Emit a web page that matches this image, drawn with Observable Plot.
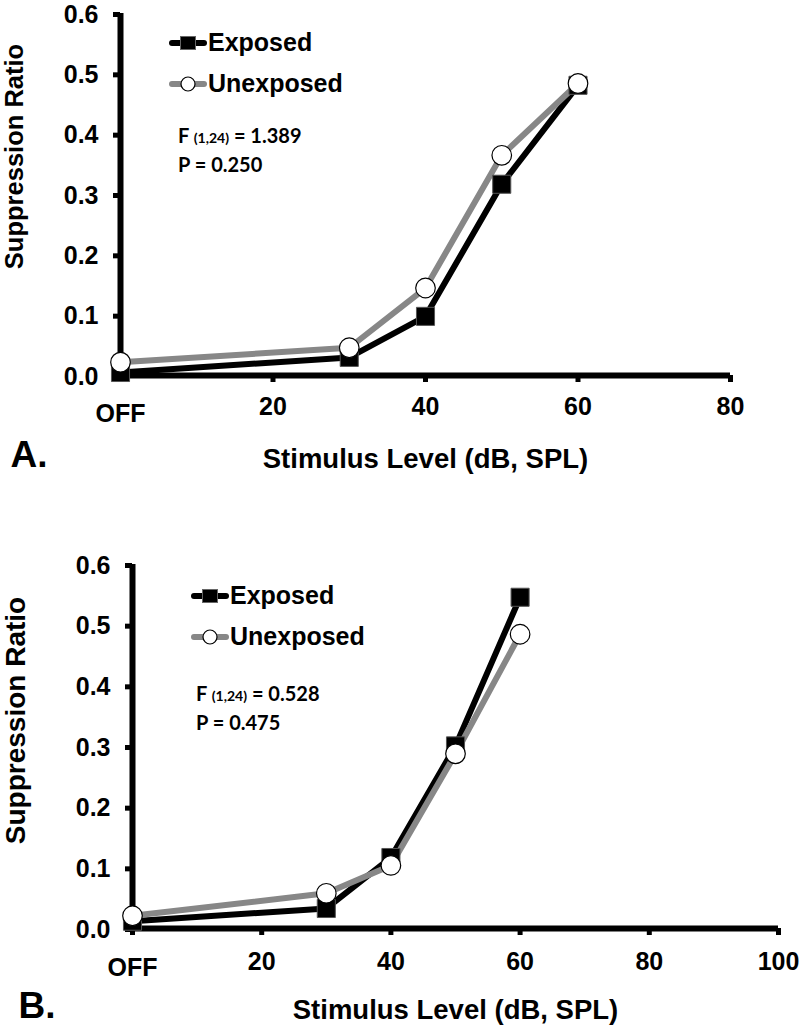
<!DOCTYPE html>
<html>
<head>
<meta charset="utf-8">
<script src="https://cdn.jsdelivr.net/npm/d3@7"></script>
<script src="https://cdn.jsdelivr.net/npm/@observablehq/plot@0.6"></script>
<style>
  html, body { margin: 0; padding: 0; background: white; }
  #root { position: relative; width: 800px; height: 1026px; overflow: hidden; font-family: "Liberation Sans", Arial, sans-serif; }
  .panel { position: absolute; left: 0; }
  .legend { position: absolute; font-weight: bold; font-size: 25px; color: black; }
  .legend .row { display: flex; align-items: center; height: 41px; }
  .legend svg { display: block; margin-right: 1px; }
  .stat { position: absolute; font-family: Lato, "Open Sans", sans-serif; font-weight: bold; font-size: 20px; line-height: 27px; color: black; white-space: nowrap; }
  .stat .sub { font-size: 14px; }
</style>
</head>
<body>
<div id="root"></div>
<script>
// ---- data ----
const levels = [0, 30, 40, 50, 60];
const exposedA = [0.005, 0.030, 0.098, 0.317, 0.481];
const unexposedA = [0.022, 0.046, 0.145, 0.365, 0.484];
const exposedB = [0.012, 0.033, 0.117, 0.301, 0.546];
const unexposedB = [0.021, 0.058, 0.104, 0.288, 0.485];
const yTicks = [0, 0.1, 0.2, 0.3, 0.4, 0.5, 0.6];
const xTicksA = [0, 20, 40, 60, 80];
const xTicksB = [0, 20, 40, 60, 80, 100];
const offLabel = "OFF";
const seriesNames = ["Exposed", "Unexposed"];
const statsA = { df: "(1,24)", F: "1.389", P: "0.250" };
const statsB = { df: "(1,24)", F: "0.528", P: "0.475" };

const grey = "#878787";

function panel(cfg) {
  const exp = levels.map((x, i) => ({x, y: cfg.exposed[i]}));
  const unexp = levels.map((x, i) => ({x, y: cfg.unexposed[i]}));
  return Plot.plot({
    width: 800,
    height: cfg.height,
    marginTop: cfg.marginTop,
    marginBottom: cfg.marginBottom,
    marginLeft: cfg.marginLeft,
    marginRight: cfg.marginRight,
    x: {domain: [0, cfg.xTicks[cfg.xTicks.length - 1]]},
    y: {domain: [0, 0.6]},
    style: {fontFamily: "'Liberation Sans', Arial, sans-serif", fontWeight: "bold", background: "white", color: "black", overflow: "visible"},
    marks: [
      Plot.axisY({ticks: yTicks, tickSize: 7, tickPadding: 15, strokeWidth: 5, fontSize: 25, fontWeight: "bold", tickFormat: d3.format(".1f"), label: null, dy: 1}),
      Plot.axisX({ticks: cfg.xTicks, tickSize: 7, tickPadding: cfg.xPad, strokeWidth: 5, fontSize: 25, fontWeight: "bold", tickFormat: d => d === 0 ? "" : String(d), label: null}),
      Plot.text([cfg.xTicks[0]], {x: d => d, frameAnchor: "bottom", text: () => offLabel, dy: cfg.offDy, fontSize: 25, fontWeight: "bold", lineAnchor: "top"}),
      Plot.ruleX([0], {stroke: "black", strokeWidth: 6}),
      Plot.ruleY([0], {stroke: "black", strokeWidth: 6}),
      Plot.text(["Suppression Ratio"], {frameAnchor: "left", dx: cfg.yTitleDx, dy: cfg.yTitleDy, rotate: -90, fontSize: cfg.yTitleSize, fontWeight: "bold", textAnchor: "middle", lineAnchor: "middle"}),
      Plot.text(["Stimulus Level (dB, SPL)"], {frameAnchor: "bottom", dy: cfg.titleDy, fontSize: 27.5, fontWeight: "bold", lineAnchor: "middle"}),
      Plot.text([cfg.letter], {frameAnchor: "bottom-left", dx: cfg.letterDx, dy: cfg.letterDy, fontSize: 37, fontWeight: "bold", textAnchor: "start", lineAnchor: "middle"}),
      Plot.line(exp, {x: "x", y: "y", stroke: "black", strokeWidth: 6}),
      Plot.line(unexp, {x: "x", y: "y", stroke: grey, strokeWidth: 6}),
      Plot.dot(exp, {x: "x", y: "y", symbol: "square", r: 10.2, fill: "black", stroke: "#555", strokeWidth: 1}),
      Plot.dot(unexp, {x: "x", y: "y", symbol: "circle", r: 9.8, fill: "white", stroke: "black", strokeWidth: 1.2})
    ]
  });
}

function legend(left, top) {
  const div = document.createElement("div");
  div.className = "legend";
  div.style.left = left + "px";
  div.style.top = top + "px";
  seriesNames.forEach((name, i) => {
    const row = document.createElement("div");
    row.className = "row";
    const color = i === 0 ? "black" : grey;
    const marker = i === 0
      ? `<rect x="11.5" y="4.5" width="15" height="13" fill="black" stroke="#666" stroke-width="1"/>`
      : `<circle cx="19" cy="11" r="7" fill="white" stroke="black" stroke-width="1.2"/>`;
    row.innerHTML = `<svg width="38" height="22"><line x1="3" x2="35" y1="11" y2="11" stroke="${color}" stroke-width="6" stroke-linecap="round"/>${marker}</svg><span>${name}</span>`;
    div.appendChild(row);
  });
  return div;
}

function stat(left, top, s) {
  const div = document.createElement("div");
  div.className = "stat";
  div.style.left = left + "px";
  div.style.top = top + "px";
  div.innerHTML = `<div>F <span class="sub">${s.df}</span> = ${s.F}</div><div>P = ${s.P}</div>`;
  return div;
}

const root = document.getElementById("root");

const a = panel({exposed: exposedA, unexposed: unexposedA, xTicks: xTicksA, height: 490, marginTop: 13, marginBottom: 115, marginLeft: 120, marginRight: 70,
  xPad: 15, offDy: 29, titleDy: 84, letter: "A.", letterDx: -110, letterDy: 80,
  yTitleDx: -106, yTitleDy: -38, yTitleSize: 25.5});
a.classList.add("panel");
a.style.top = "0px";
root.appendChild(a);

const b = panel({exposed: exposedB, unexposed: unexposedB, xTicks: xTicksB, height: 536, marginTop: 74, marginBottom: 98, marginLeft: 132, marginRight: 22,
  xPad: 17, offDy: 30, titleDy: 82, letter: "B.", letterDx: -114, letterDy: 78,
  yTitleDx: -116, yTitleDy: -26, yTitleSize: 28});
b.classList.add("panel");
b.style.top = "490px";
root.appendChild(b);

root.appendChild(legend(169, 22));
root.appendChild(legend(191, 575));
root.appendChild(stat(178, 122, statsA));
root.appendChild(stat(196, 680, statsB));
</script>
</body>
</html>
